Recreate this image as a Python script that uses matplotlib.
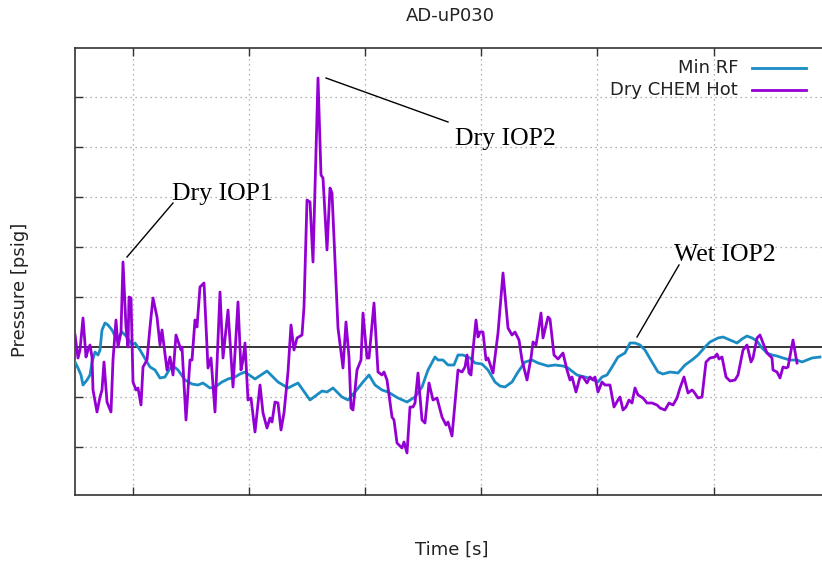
import matplotlib
matplotlib.use("Agg")
import matplotlib.pyplot as plt
from matplotlib.lines import Line2D

# ---- data (time [s], pressure [psig]) ----
chem_t = [0, 3, 5, 8, 11, 13, 15, 17, 18, 22, 25, 27, 29, 32, 36, 38, 41, 43, 46, 48,
          51, 53, 54, 56, 58, 61, 63, 66, 68, 72, 75, 78, 82, 85, 87, 92, 95, 98, 101, 106,
          107, 111, 115, 117, 120, 122, 125, 129, 133, 136, 140, 145, 148, 153, 158, 163, 166, 168, 170, 173,
          176, 180, 185, 188, 192, 195, 197, 200, 203, 206, 209, 213, 216, 219, 222, 227, 229, 232, 235, 238,
          243, 246, 248, 252, 255, 257, 263, 268, 271, 274, 276, 278, 282, 286, 288, 292, 294, 299, 303, 307,
          309, 312, 317, 319, 322, 327, 329, 332, 335, 338, 340, 343, 347, 350, 354, 358, 362, 367, 371, 373,
          377, 383, 387, 390, 392, 394, 396, 398, 401, 403, 405, 408, 411, 413, 418, 423, 428, 433, 437, 440,
          444, 447, 452, 456, 458, 461, 463, 466, 468, 473, 475, 479, 483, 488, 492, 495, 497, 501, 505, 508,
          512, 515, 518, 520, 523, 527, 530, 535, 539, 543, 545, 548, 551, 554, 557, 560, 563, 568, 572, 577,
          582, 585, 590, 594, 598, 602, 605, 609, 613, 617, 619, 623, 627, 631, 635, 640, 642, 644, 647, 651,
          655, 660, 663, 668, 672, 676, 678, 682, 685, 688, 692, 697, 698, 702, 705, 708, 711, 713, 718, 722]
chem_p = [0.12, -0.11, -0.03, 0.29, -0.10, -0.03, 0.02, -0.10, -0.43, -0.65, -0.50, -0.43, -0.15, -0.55, -0.65, -0.13, 0.27, 0.00, 0.15, 0.85,
          0.20, 0.00, 0.50, 0.49, -0.35, -0.43, -0.41, -0.58, -0.20, -0.13, 0.20, 0.49, 0.30, 0.02, 0.17, -0.23, -0.10, -0.28, 0.12, -0.03,
          0.00, -0.73, -0.13, -0.13, 0.27, 0.20, 0.60, 0.64, -0.21, -0.11, -0.65, 0.55, -0.11, 0.37, -0.40, 0.45, -0.23, -0.13, 0.04, -0.53,
          -0.51, -0.85, -0.38, -0.66, -0.81, -0.71, -0.75, -0.55, -0.56, -0.83, -0.66, -0.25, 0.22, -0.03, 0.09, 0.12, 0.40, 1.47, 1.45, 0.85,
          2.69, 1.72, 1.69, 0.97, 1.59, 1.54, 0.19, -0.21, 0.25, -0.10, -0.61, -0.63, -0.23, -0.13, 0.34, -0.11, -0.11, 0.44, -0.25, -0.28,
          -0.25, -0.33, -0.70, -0.73, -0.96, -1.01, -0.95, -1.06, -0.60, -0.60, -0.56, -0.26, -0.73, -0.76, -0.36, -0.53, -0.51, -0.70, -0.78, -0.75,
          -0.89, -0.23, -0.25, -0.20, -0.08, -0.26, -0.28, -0.03, 0.27, 0.10, 0.15, 0.15, -0.13, -0.11, -0.26, 0.14, 0.74, 0.19, 0.12, 0.15,
          0.07, -0.13, -0.33, -0.11, 0.05, 0.02, 0.14, 0.34, 0.09, 0.30, 0.28, -0.08, -0.12, -0.06, -0.23, -0.33, -0.30, -0.45, -0.30, -0.30,
          -0.36, -0.30, -0.33, -0.30, -0.45, -0.35, -0.38, -0.38, -0.60, -0.53, -0.50, -0.63, -0.60, -0.53, -0.56, -0.41, -0.48, -0.51, -0.56, -0.56,
          -0.58, -0.61, -0.63, -0.56, -0.58, -0.51, -0.41, -0.30, -0.46, -0.43, -0.45, -0.51, -0.50, -0.15, -0.11, -0.10, -0.07, -0.12, -0.10, -0.30,
          -0.34, -0.33, -0.28, -0.03, 0.02, -0.15, -0.11, 0.09, 0.12, 0.04, -0.06, -0.11, -0.23, -0.25, -0.31, -0.20, -0.21, -0.20, 0.07, -0.16]

rf_t = [0, 3, 6, 8, 12, 15, 17, 20, 23, 25, 27, 30, 33, 37, 42, 47, 52, 57, 60, 65,
        72, 75, 80, 85, 90, 97, 103, 110, 117, 123, 128, 135, 140, 147, 153, 160, 165, 170, 180, 192,
        203, 213, 223, 235, 247, 252, 258, 267, 273, 280, 288, 294, 300, 307, 313, 323, 332, 340, 347, 353,
        360, 363, 368, 373, 379, 383, 388, 395, 400, 407, 413, 420, 425, 430, 437, 443, 450, 457, 463, 473,
        480, 488, 493, 502, 510, 517, 523, 527, 532, 537, 543, 550, 555, 560, 565, 570, 577, 583, 588, 595,
        603, 610, 617, 623, 630, 635, 643, 648, 655, 662, 667, 672, 677, 682, 687, 692, 697, 702, 708, 715,
        722, 727, 732, 737, 745]
rf_p = [-0.15, -0.21, -0.28, -0.38, -0.33, -0.28, -0.15, -0.05, -0.08, -0.03, 0.17, 0.24, 0.22, 0.17, 0.07, 0.15, 0.10, 0.02, 0.04, -0.03,
        -0.15, -0.20, -0.23, -0.31, -0.30, -0.18, -0.23, -0.33, -0.37, -0.38, -0.36, -0.41, -0.40, -0.35, -0.32, -0.30, -0.27, -0.25, -0.32, -0.24,
        -0.35, -0.41, -0.36, -0.53, -0.44, -0.45, -0.41, -0.50, -0.53, -0.45, -0.35, -0.28, -0.38, -0.43, -0.45, -0.51, -0.55, -0.50, -0.40, -0.23,
        -0.10, -0.13, -0.13, -0.18, -0.18, -0.08, -0.08, -0.11, -0.16, -0.17, -0.23, -0.35, -0.39, -0.40, -0.35, -0.25, -0.15, -0.13, -0.16, -0.19,
        -0.18, -0.19, -0.21, -0.28, -0.30, -0.32, -0.35, -0.30, -0.28, -0.20, -0.10, -0.06, 0.04, 0.04, 0.02, -0.03, -0.15, -0.25, -0.27, -0.25,
        -0.26, -0.18, -0.13, -0.08, 0.00, 0.05, 0.09, 0.10, 0.07, 0.04, 0.08, 0.11, 0.09, 0.06, -0.01, -0.06, -0.08, -0.09, -0.11, -0.13,
        -0.13, -0.15, -0.13, -0.11, -0.10]

x_ticks = [58, 174, 290, 406, 522, 639]
y_ticks = [-1.0, -0.5, 0.5, 1.0, 1.5, 2.0, 2.5]

annotations = [  # label, line start (t,p), line end (t,p), text pos (t,p)
    ("Dry IOP1", (52, 0.90), (98, 1.44), (97, 1.47)),
    ("Dry IOP2", (251, 2.69), (373, 2.25), (380, 2.02)),
    ("Wet IOP2", (562, 0.10), (604, 0.82), (599, 0.86)),
]

series_names = ["Min RF", "Dry CHEM Hot"]
colors = ["#1a8bc3", "#9400d3"]

# ---- figure ----
plt.rcParams['font.family'] = ['DejaVu Sans']
fig = plt.figure(figsize=(8.22, 5.62), dpi=100)
W, H = 822, 562
ax = fig.add_axes([75 / W, 67 / H, 753 / W, 447 / H])
ax.set_xlim(0, 753)
ax.set_ylim(-1.48, 2.99)

ax.set_xticks(x_ticks)
ax.set_yticks(y_ticks)
ax.tick_params(axis='both', direction='in', length=6, width=1, color='#333333',
               labelbottom=False, labelleft=False, top=True, right=False)
ax.grid(True, color='#9a9a9a', linestyle=(0, (1, 3)), linewidth=0.9)
for s in ['left', 'bottom', 'top']:
    ax.spines[s].set_color('#333333')
    ax.spines[s].set_linewidth(1.2)
ax.spines['right'].set_visible(False)

ax.axhline(0, color='black', linewidth=1.1, zorder=2)

l_rf, = ax.plot(rf_t, rf_p, color=colors[0], linewidth=2.0, zorder=3)
l_ch, = ax.plot(chem_t, chem_p, color=colors[1], linewidth=2.0, zorder=4)

for label, p0, p1, pt in annotations:
    ax.plot([p0[0], p1[0]], [p0[1], p1[1]], color='black', linewidth=1.0, zorder=5)
    ax.text(pt[0], pt[1], label, family='Liberation Serif', fontsize=18.5,
            ha='left', va='baseline', color='black', zorder=6)

# legend drawn gnuplot-style (right-aligned text, sample on right)
for i, (name, c) in enumerate(zip(series_names, colors)):
    ypx = 68 + 22 * i
    yf = 1 - ypx / H
    fig.add_artist(Line2D([752 / W, 806 / W], [yf, yf], color=c, linewidth=2.0,
                          transform=fig.transFigure))
    fig.text(738 / W, yf, name, ha='right', va='center', fontsize=13, color='#222222')

fig.text(450 / W, 1 - 16 / H, "AD-uP030", ha='center', va='center', fontsize=13, color='#222222')
fig.text(452 / W, 1 - 550 / H, "Time [s]", ha='center', va='center', fontsize=13, color='#222222')
fig.text(20 / W, 1 - 290 / H, "Pressure [psig]", ha='center', va='center', rotation=90,
         fontsize=13, color='#222222')

fig.savefig("out.png", dpi=100)
